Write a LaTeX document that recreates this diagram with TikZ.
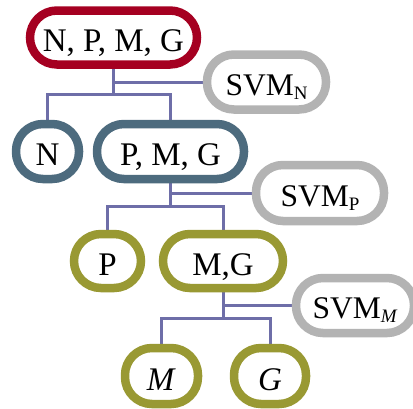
\documentclass[tikz,border=0pt]{standalone}
\usepackage{fontspec}
\setmainfont{Liberation Serif}
\usetikzlibrary{backgrounds}
\definecolor{rootred}{RGB}{165,0,33}
\definecolor{slate}{RGB}{77,107,126}
\definecolor{olive}{RGB}{153,153,51}
\definecolor{svmgray}{RGB}{179,179,179}
\definecolor{connc}{RGB}{110,110,168}
\newcommand{\svmsub}[1]{SVM\raisebox{-4pt}{\fontsize{19}{20}\selectfont #1}}
\begin{document}
\begin{tikzpicture}[x=1pt,y=-1pt,
  box/.style={draw, line width=8.5pt, rounded corners=27pt, fill=white,
    minimum height=54pt, inner sep=0pt, text height=28pt, text depth=0pt,
    font=\fontsize{33}{36}\selectfont},
  svm/.style={box, draw=svmgray, minimum height=55pt, text height=26.5pt,
    font=\fontsize{31.5}{34}\selectfont},
  conn/.style={draw=connc, line width=3pt}]
\useasboundingbox (0,0) rectangle (413,408);
\node[box,draw=rootred,minimum width=167pt] (root) at (113.5,37.5) {N, P, M, G};
\node[svm,minimum width=119pt] (svmn) at (266.5,82) {\svmsub{N}};
\node[box,draw=slate,minimum width=63pt,minimum height=55pt] (n) at (47.5,151.5) {N};
\node[box,draw=slate,minimum width=147pt,minimum height=55pt] (pmg) at (170.5,151.5) {P, M, G};
\node[svm,minimum width=128pt,minimum height=56pt] (svmp) at (320,193) {\svmsub{P}};
\node[box,draw=olive,minimum width=67pt] (p) at (107.5,261) {P};
\node[box,draw=olive,minimum width=120pt] (mg) at (223,261) {M,G};
\node[svm,minimum width=118pt] (svmm) at (355,305.5) {\svmsub{\textit{M}}};
\node[box,draw=olive,minimum width=73pt,minimum height=56pt] (m) at (161.5,376) {\textit{M}};
\node[box,draw=olive,minimum width=72pt,minimum height=56pt] (g) at (270,376) {\textit{G}};
\begin{scope}[on background layer]
\coordinate (j1) at (113.5,94);
\draw[conn] (root.south) -- (j1);
\draw[conn] (root.south |- svmn.west) -- (svmn.west);
\draw[conn] (n.north) |- (j1) -| (pmg.north);
\coordinate (j2) at (170.5,206);
\draw[conn] (pmg.south) -- (j2);
\draw[conn] (pmg.south |- svmp.west) -- (svmp.west);
\draw[conn] (p.north) |- (j2) -| (mg.north);
\coordinate (j3) at (223,318);
\draw[conn] (mg.south) -- (j3);
\draw[conn] (mg.south |- svmm.west) -- (svmm.west);
\draw[conn] (m.north) |- (j3) -| (g.north);
\end{scope}
\end{tikzpicture}
\end{document}
